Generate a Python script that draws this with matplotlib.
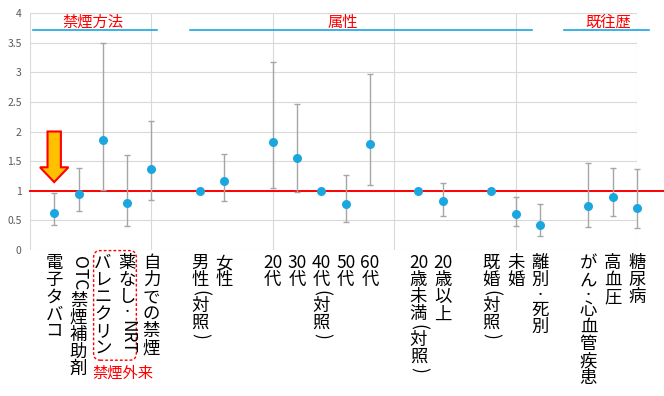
#!/usr/bin/env python3
"""Odds ratios with 95% CI by smoking-cessation method / attributes / history."""

import matplotlib
matplotlib.use("Agg")
import matplotlib.pyplot as plt
from matplotlib.patches import FancyArrow, FancyBboxPatch

plt.rcParams["font.family"] = ["Noto Sans CJK JP", "DejaVu Sans"]

# ─────────────────────────────────────────────────────────────────────────────
LABELS = [
    "電子タバコ", "OTC禁煙補助剤", "バレニクリン", "薬なし・NRT", "自力での禁煙",
    "男性(対照)", "女性",
    "20代", "30代", "40代(対照)", "50代", "60代",
    "20歳未満(対照)", "20歳以上",
    "既婚(対照)", "未婚", "離別・死別",
    "がん・心血管疾患", "高血圧", "糖尿病",
]
POSITIONS = [1, 2, 3, 4, 5, 7, 8, 10, 11, 12, 13, 14, 16, 17, 19, 20, 21, 23, 24, 25]
ODDS  = [0.63, 0.95, 1.86, 0.80, 1.36, 1.00, 1.16, 1.82, 1.56, 1.00,
         0.78, 1.79, 1.00, 0.83, 1.00, 0.60, 0.43, 0.75, 0.89, 0.71]
LOWER = [0.42, 0.66, 1.02, 0.41, 0.85, 1.00, 0.83, 1.05, 0.98, 1.00,
         0.48, 1.09, 1.00, 0.58, 1.00, 0.41, 0.24, 0.38, 0.58, 0.37]
UPPER = [0.97, 1.38, 3.49, 1.61, 2.18, 1.00, 1.62, 3.17, 2.47, 1.00,
         1.26, 2.97, 1.00, 1.13, 1.00, 0.90, 0.78, 1.47, 1.39, 1.36]

GROUPS = ["禁煙方法", "属性", "既往歴"]
GROUP_SPANS = [(0.12, 5.23), (6.59, 20.68), (22.0, 25.5)]
GROUP_TEXT_X = [2.6, 12.9, 23.8]

BLUE = "#1AA7E0"
RED = "#FF0000"
GRAY = "#A6A6A6"
# ─────────────────────────────────────────────────────────────────────────────

FS = 12.5        # label font size (pt)
PITCH = 12.3     # vertical cell height (pt)
TOP_PAD = 3.3


def tokens(s):
    out, i = [], 0
    while i < len(s):
        c = s[i]
        if c.isascii() and c.isalnum():
            j = i
            while j < len(s) and s[j].isascii() and s[j].isalnum():
                j += 1
            run = s[i:j]
            out.append((run, "digit" if run.isdigit() else "latin"))
            i = j
        elif c in "()":
            out.append((c, "paren"))
            i += 1
        else:
            out.append((c, "cjk"))
            i += 1
    return out


def vertical_label(ax, x, label):
    """Draw a tategaki-style label under the axis at data x."""
    off = TOP_PAD
    for t, kind in tokens(label):
        rot, fs = 0, FS
        if kind == "latin":
            h = 0.68 * FS * len(t) + 1.5
            rot = -90
        elif kind == "paren":
            h = 0.5 * PITCH
            rot = -90
        elif t == "・":
            h = 0.75 * PITCH
            fs = 8
        else:
            h = PITCH
        ax.annotate(t, xy=(x, 0), xycoords=("data", "axes fraction"),
                    xytext=(0, -(off + h / 2)), textcoords="offset points",
                    ha="center", va="center", rotation=rot, fontsize=fs,
                    annotation_clip=False)
        off += h


def main() -> None:
    fig = plt.figure(figsize=(6.64, 3.96), dpi=100)
    ax = fig.add_axes([30 / 664, 1 - 250 / 396, 607 / 664, 237 / 396])

    ax.set_xlim(0, 25)
    ax.set_ylim(0, 4)
    ax.set_xticks(range(0, 26, 5))
    ax.set_xticklabels([])
    yt = [i * 0.5 for i in range(9)]
    ax.set_yticks(yt)
    ax.set_yticklabels([f"{v:g}" for v in yt])
    ax.tick_params(length=0, labelsize=7.5, labelcolor="#595959", pad=6)
    for s in ax.spines.values():
        s.set_visible(False)
    ax.grid(True, color="#D9D9D9", linewidth=0.8)
    ax.set_axisbelow(True)

    # reference line at OR = 1
    ax.plot([0, 26.1], [1, 1], color=RED, linewidth=1.4, clip_on=False, zorder=2)

    err = [[o - lo for o, lo in zip(ODDS, LOWER)], [hi - o for o, hi in zip(ODDS, UPPER)]]
    eb = ax.errorbar(POSITIONS, ODDS, yerr=err, fmt="none", ecolor=GRAY,
                     elinewidth=1.0, capsize=2.3, capthick=1.0, zorder=3)
    for art in eb.lines[1] + eb.lines[2]:
        art.set_clip_on(False)
    ax.plot(POSITIONS, ODDS, "o", color=BLUE, markersize=6.5, zorder=4,
            markeredgewidth=0, clip_on=False)

    for x, lab in zip(POSITIONS, LABELS):
        vertical_label(ax, x, lab)

    # group headers
    for g, (x0, x1), tx in zip(GROUPS, GROUP_SPANS, GROUP_TEXT_X):
        ax.plot([x0, x1], [3.71, 3.71], color=BLUE, linewidth=1.2, clip_on=False)
        ax.text(tx, 3.84, g, color=RED, fontsize=11, ha="center", va="center",
                clip_on=False)

    # highlight arrow over e-cigarette
    ax.add_patch(FancyArrow(0.997, 2.0, 0, -0.854, width=0.55, head_width=1.17,
                            head_length=0.25, length_includes_head=True,
                            facecolor="#FFC000", edgecolor=RED, linewidth=1.5,
                            zorder=5, clip_on=False))

    # dashed box around clinic-based methods
    box = FancyBboxPatch((2.62, -1.86), 1.76, 1.85,
                         boxstyle="round,pad=0,rounding_size=0.28",
                         mutation_aspect=24.28 / 59.25,
                         facecolor="none", edgecolor=RED, linewidth=1.0,
                         linestyle=(0, (2, 1.5)), clip_on=False)
    ax.add_patch(box)
    ax.text(3.83, -2.08, "禁煙外来", color=RED, fontsize=11, ha="center",
            va="center", clip_on=False)

    fig.savefig("out.png", dpi=100)
    plt.close(fig)


if __name__ == "__main__":
    main()
